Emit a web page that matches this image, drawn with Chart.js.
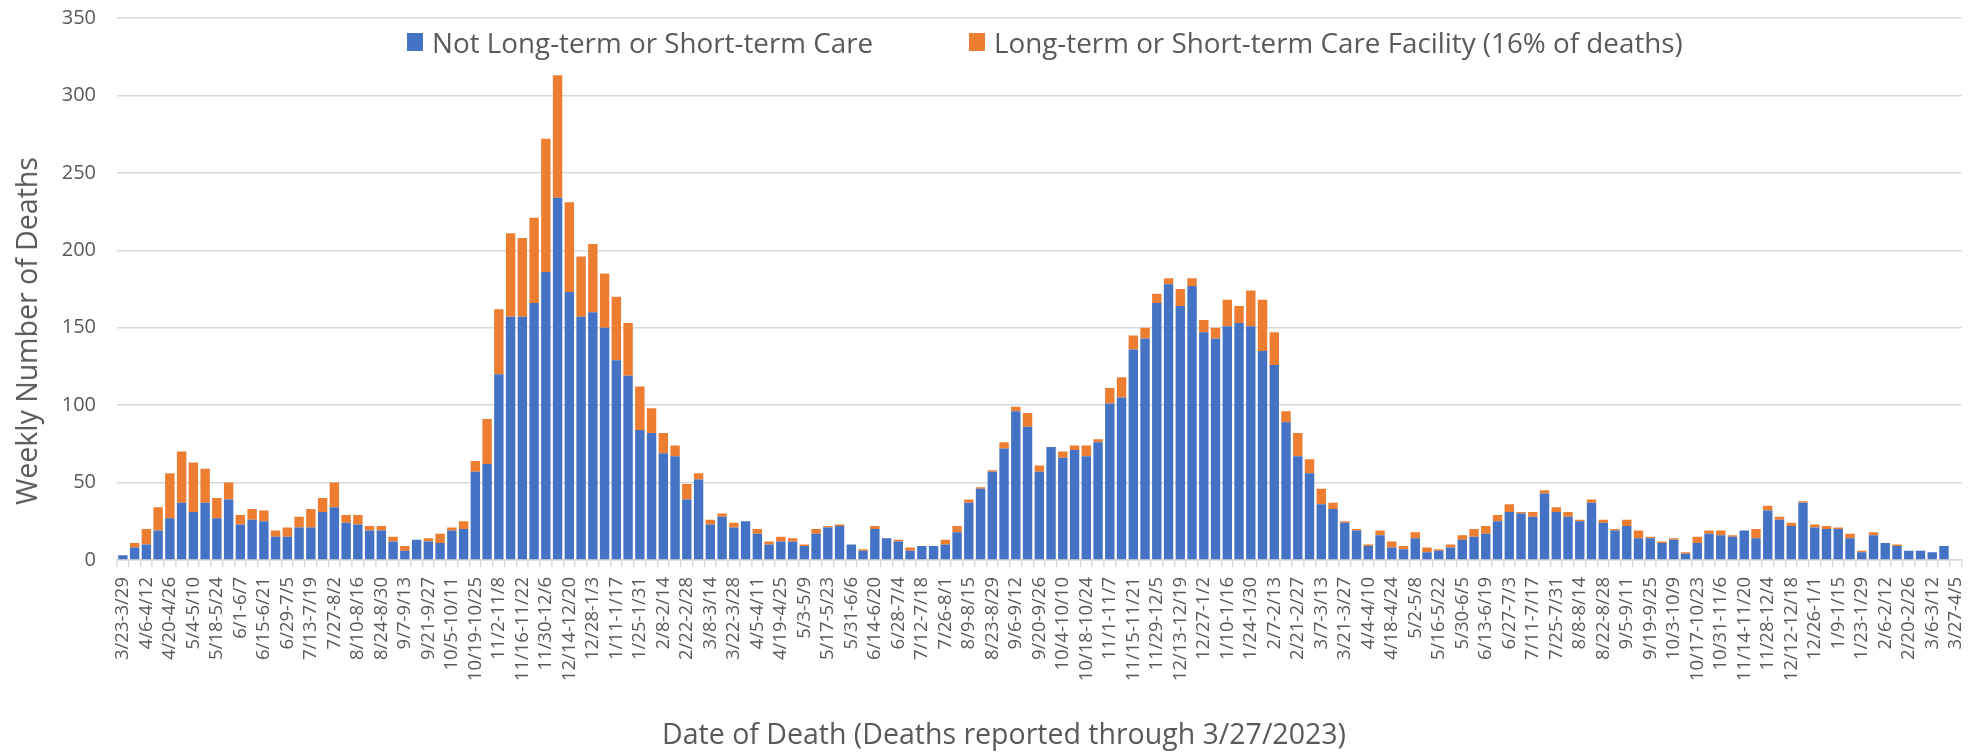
<!DOCTYPE html>
<html>
<head>
<meta charset="utf-8">
<script src="https://cdn.jsdelivr.net/npm/chart.js@4"></script>
<style>
  body { margin: 0; background: #fff; font-family: "Open Sans", sans-serif; }
  #wrap { position: relative; width: 1988px; height: 752px; }
  #legend { position: absolute; top: 24px; left: 0; width: 100%; height: 36px; color: #595959; font-size: 27.8px; }
  #legend .item { position: absolute; top: 0; display: flex; align-items: center; white-space: nowrap; line-height: 36px; }
  #legend .box { width: 16px; height: 18px; margin-right: 9px; }
  .axis-title { position: absolute; color: #595959; white-space: nowrap; transform: translate(-50%, -50%); }
  #xTitle { left: 1004px; top: 733px; font-size: 28.5px; }
  #yTitle { left: 26px; top: 331px; font-size: 28.5px; transform: translate(-50%, -50%) rotate(-90deg); }
</style>
</head>
<body>
<div id="wrap">
  <canvas id="deathsChart"></canvas>
  <div id="legend"></div>
  <div id="xTitle" class="axis-title">Date of Death (Deaths reported through 3/27/2023)</div>
  <div id="yTitle" class="axis-title">Weekly Number of Deaths</div>
</div>
<script>
// tick labels shown on the x axis (every other week)
var tickLabels = [
  "3/23-3/29", "4/6-4/12", "4/20-4/26", "5/4-5/10", "5/18-5/24", "6/1-6/7", "6/15-6/21", "6/29-7/5",
  "7/13-7/19", "7/27-8/2", "8/10-8/16", "8/24-8/30", "9/7-9/13", "9/21-9/27", "10/5-10/11", "10/19-10/25",
  "11/2-11/8", "11/16-11/22", "11/30-12/6", "12/14-12/20",
  "12/28-1/3", "1/11-1/17", "1/25-1/31", "2/8-2/14", "2/22-2/28", "3/8-3/14", "3/22-3/28", "4/5-4/11",
  "4/19-4/25", "5/3-5/9", "5/17-5/23", "5/31-6/6", "6/14-6/20", "6/28-7/4", "7/12-7/18", "7/26-8/1",
  "8/9-8/15", "8/23-8/29", "9/6-9/12", "9/20-9/26", "10/4-10/10", "10/18-10/24", "11/1-11/7", "11/15-11/21",
  "11/29-12/5", "12/13-12/19",
  "12/27-1/2", "1/10-1/16", "1/24-1/30", "2/7-2/13", "2/21-2/27", "3/7-3/13", "3/21-3/27", "4/4-4/10",
  "4/18-4/24", "5/2-5/8", "5/16-5/22", "5/30-6/5", "6/13-6/19", "6/27-7/3", "7/11-7/17", "7/25-7/31",
  "8/8-8/14", "8/22-8/28", "9/5-9/11", "9/19-9/25", "10/3-10/9", "10/17-10/23", "10/31-11/6", "11/14-11/20",
  "11/28-12/4", "12/12-12/18",
  "12/26-1/1", "1/9-1/15", "1/23-1/29", "2/6-2/12", "2/20-2/26", "3/6-3/12", "3/27-4/5"
];

// weekly deaths, not in a care facility
var notCare = [
  3, 8, 10, 19, 27, 37, 31, 37, 27, 39, 23, 26, 25, 15, 15, 21, 21, 31, 34, 24,
  23, 19, 19, 12, 6, 13, 12, 11, 19, 20, 57, 62, 120, 157, 157, 166, 186, 234, 173, 157,
  160, 150, 129, 119, 84, 82, 69, 67, 39, 52, 23, 28, 21, 25, 17, 10, 12, 12, 9, 17,
  21, 22, 10, 6, 20, 14, 12, 6, 9, 9, 10, 18, 37, 46, 57, 72, 96, 86, 57, 73,
  66, 71, 67, 76, 101, 105, 136, 143, 166, 178, 164, 177, 147, 143, 151, 153, 151, 135, 126, 89,
  67, 56, 36, 33, 24, 19, 9, 16, 8, 7, 14, 5, 6, 8, 13, 15, 17, 25, 31, 30,
  28, 43, 31, 28, 25, 37, 24, 19, 22, 14, 14, 11, 13, 4, 11, 17, 16, 15, 19, 14,
  32, 26, 22, 37, 21, 20, 20, 14, 5, 16, 11, 9, 6, 6, 5, 9, 0
];

// weekly deaths in long-term or short-term care facilities
var careFacility = [
  0, 3, 10, 15, 29, 33, 32, 22, 13, 11, 6, 7, 7, 4, 6, 7, 12, 9, 16, 5,
  6, 3, 3, 3, 3, 0, 2, 6, 2, 5, 7, 29, 42, 54, 51, 55, 86, 79, 58, 39,
  44, 35, 41, 34, 28, 16, 13, 7, 10, 4, 3, 2, 3, 0, 3, 2, 3, 2, 1, 3,
  1, 1, 0, 1, 2, 0, 1, 2, 0, 0, 3, 4, 2, 1, 1, 4, 3, 9, 4, 0,
  4, 3, 7, 2, 10, 13, 9, 7, 6, 4, 11, 5, 8, 7, 17, 11, 23, 33, 21, 7,
  15, 9, 10, 4, 1, 1, 1, 3, 4, 2, 4, 3, 1, 2, 3, 5, 5, 4, 5, 1,
  3, 2, 3, 3, 1, 2, 2, 1, 4, 5, 1, 1, 1, 1, 4, 2, 3, 1, 0, 6,
  3, 2, 2, 1, 2, 2, 1, 3, 1, 2, 0, 1, 0, 0, 0, 0, 0
];

var seriesNames = ["Not Long-term or Short-term Care", "Long-term or Short-term Care Facility (16% of deaths)"];
var seriesColors = ["#4472C4", "#ED7D31"];

// one category per week, label only on every other week
var categories = notCare.map(function (v, i) {
  return i % 2 === 0 ? tickLabels[i / 2] : "";
});

var textColor = "#595959";
var gridColor = "#D9D9D9";

var ctx = document.getElementById("deathsChart").getContext("2d");
var deathsChart = new Chart(ctx, {
  type: "bar",
  data: {
    labels: categories,
    datasets: [{
      label: seriesNames[0],
      data: notCare,
      backgroundColor: seriesColors[0]
    }, {
      label: seriesNames[1],
      data: careFacility,
      backgroundColor: seriesColors[1]
    }]
  },
  options: {
    responsive: true,
    maintainAspectRatio: false,
    animation: false,
    layout: {
      padding: { left: 0, top: 16, right: 20, bottom: 0 }
    },
    datasets: {
      bar: { barPercentage: 0.8, categoryPercentage: 1.0 }
    },
    plugins: {
      legend: { display: false },
      tooltip: { enabled: false }
    },
    scales: {
      x: {
        stacked: true,
        grid: {
          offset: true,
          drawOnChartArea: false,
          drawTicks: true,
          tickLength: 7,
          color: gridColor,
          lineWidth: 1.5
        },
        border: { color: gridColor, width: 1.5 },
        ticks: {
          autoSkip: false,
          minRotation: 90,
          maxRotation: 90,
          padding: 10,
          color: textColor,
          font: { family: "Open Sans", size: 18.5 }
        },
        // room for the rotated labels and the title below them
        afterFit: function (scale) {
          scale.height = 192;
        }
      },
      y: {
        stacked: true,
        min: 0,
        max: 350,
        ticks: {
          stepSize: 50,
          padding: 6,
          color: textColor,
          font: { family: "Open Sans", size: 20 }
        },
        grid: {
          color: gridColor,
          lineWidth: 1.5,
          // invisible tick marks keep the labels away from the plot
          drawTicks: true,
          tickLength: 15,
          tickColor: "rgba(0,0,0,0)"
        },
        border: { display: false },
        afterFit: function (scale) {
          scale.width = 117;
        }
      }
    }
  }
});

// legend drawn on top of the plot area, like the original
var legendPos = [407, 969];
var legendEl = document.getElementById("legend");
deathsChart.data.datasets.forEach(function (ds, i) {
  var item = document.createElement("div");
  item.className = "item";
  item.style.left = legendPos[i] + "px";
  var box = document.createElement("span");
  box.className = "box";
  box.style.background = ds.backgroundColor;
  var txt = document.createElement("span");
  txt.textContent = ds.label;
  item.appendChild(box);
  item.appendChild(txt);
  legendEl.appendChild(item);
});
</script>
</body>
</html>
